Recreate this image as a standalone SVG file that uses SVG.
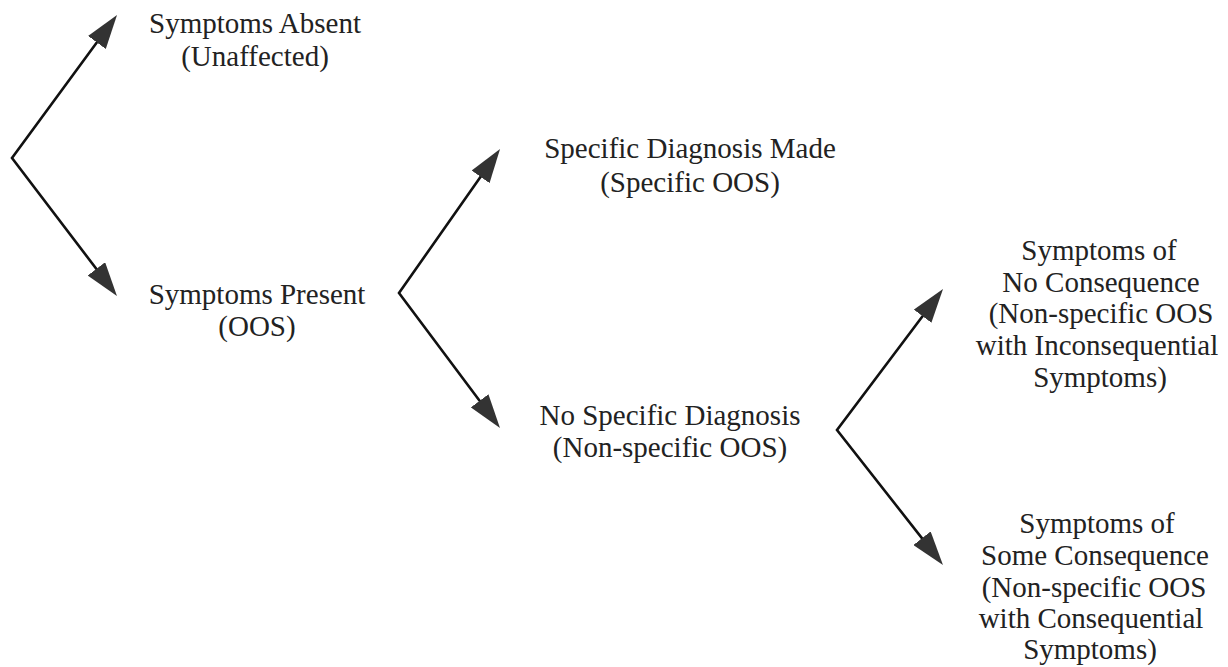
<svg xmlns="http://www.w3.org/2000/svg" width="1228" height="667" viewBox="0 0 1228 667">
<style>
.t{font-family:"Liberation Serif","Times New Roman",serif;font-size:29px;fill:#222;text-anchor:middle}
.c{fill:none;stroke:#111;stroke-width:2.6;stroke-linejoin:miter}
</style>
<defs>
<marker id="ah" viewBox="0 0 34 22" refX="24" refY="11" markerUnits="userSpaceOnUse" markerWidth="34" markerHeight="22" orient="auto-start-reverse">
<path d="M0,0 L34,11 L0,22 z" fill="#333"/>
</marker>
</defs>
<rect width="1228" height="667" fill="#fff"/>
<g id="connectors">
<path class="c" d="M111.1,23.1 L12,158 L110.9,288" marker-start="url(#ah)" marker-end="url(#ah)"/>
<path class="c" d="M494.3,157.2 L399,293 L494,420" marker-start="url(#ah)" marker-end="url(#ah)"/>
<path class="c" d="M937,297 L837,430 L936.8,557.1" marker-start="url(#ah)" marker-end="url(#ah)"/>
</g>
<g id="n1"><text class="t" x="255" y="33">Symptoms Absent</text><text class="t" x="255" y="66">(Unaffected)</text></g>
<g id="n2"><text class="t" x="257" y="304">Symptoms Present</text><text class="t" x="257" y="336">(OOS)</text></g>
<g id="n3"><text class="t" x="690" y="158">Specific Diagnosis Made</text><text class="t" x="690" y="192">(Specific OOS)</text></g>
<g id="n4"><text class="t" x="670" y="425">No Specific Diagnosis</text><text class="t" x="670" y="457">(Non-specific OOS)</text></g>
<g id="n5">
<text class="t" x="1099" y="260">Symptoms of</text>
<text class="t" x="1101" y="292">No Consequence</text>
<text class="t" x="1101" y="323">(Non-specific OOS</text>
<text class="t" x="1097" y="355">with Inconsequential</text>
<text class="t" x="1100" y="387">Symptoms)</text>
</g>
<g id="n6">
<text class="t" x="1097" y="533">Symptoms of</text>
<text class="t" x="1095" y="565">Some Consequence</text>
<text class="t" x="1094" y="597">(Non-specific OOS</text>
<text class="t" x="1091" y="628">with Consequential</text>
<text class="t" x="1090" y="659">Symptoms)</text>
</g>
</svg>
